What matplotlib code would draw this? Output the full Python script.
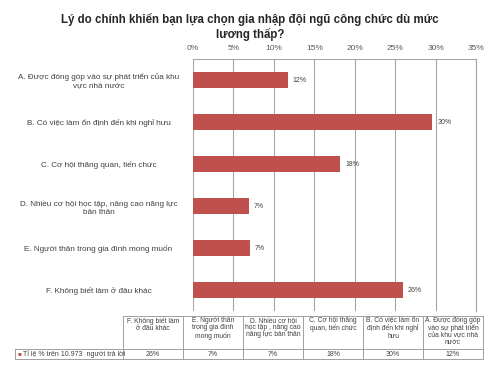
import matplotlib.pyplot as plt
import numpy as np

plt.rcParams['font.family'] = ['Liberation Sans', 'DejaVu Sans']

# data, top to bottom as drawn
categories = [
    "A. Được đóng góp vào sự phát triển của khu\nvực nhà nước",
    "B. Có việc làm ổn định đến khi nghỉ hưu",
    "C. Cơ hội thăng quan, tiến chức",
    "D. Nhiều cơ hội học tập, nâng cao năng lực\nbản thân",
    "E. Người thân trong gia đình mong muốn",
    "F. Không biết làm ở đâu khác",
]
values = [11.7, 29.6, 18.2, 6.9, 7.0, 26.0]

# table below the chart (reversed order, as in the original)
table_headers = [
    "F. Không biết làm\nở đâu khác",
    "E. Người thân\ntrong gia đình\nmong muốn",
    "D. Nhiều cơ hội\nhọc tập , nâng cao\nnăng lực bản thân",
    "C. Cơ hội thăng\nquan, tiến chức",
    "B. Có việc làm ổn\nđịnh đến khi nghỉ\nhưu",
    "A. Được đóng góp\nvào sự phát triển\ncủa khu vực nhà\nnước",
]
table_values = values[::-1]
series_name = "Tỉ lệ % trên 10.973  người trả lời"

title = "Lý do chính khiến bạn lựa chọn gia nhập đội ngũ công chức dù mức\nlương thấp?"
xticks = [0, 5, 10, 15, 20, 25, 30, 35]

bar_color = "#C0504D"
grid_color = "#A6A6A6"
text_color = "#404040"

W, H = 500, 375
fig = plt.figure(figsize=(5, 3.75), dpi=100)


def fx(px):
    return px / W


def fy(py):
    return 1 - py / H


# main bar chart
ax = fig.add_axes([fx(193), fy(311), fx(476 - 193), (311 - 59) / H])
y = np.arange(len(categories))
ax.barh(y, values, height=0.4, color=bar_color, zorder=3)
for yi, v in zip(y, values):
    ax.annotate(f"{v:.0f}%", (v, yi), xytext=(3.5, 0), textcoords="offset points",
                va="center", ha="left", fontsize=5, color=text_color)

ax.set_xlim(0, 35)
ax.set_ylim(len(categories) - 0.5, -0.5)
ax.set_xticks(xticks)
ax.set_xticklabels([f"{t}%" for t in xticks])
ax.xaxis.tick_top()
ax.tick_params(axis="x", length=0, pad=5, labelsize=6, colors="#595959")
ax.set_yticks(y)
ax.set_yticklabels(categories)
ax.tick_params(axis="y", length=0, pad=68, labelsize=5.9, colors=text_color)
for lbl in ax.get_yticklabels():
    lbl.set_ha("center")
    lbl.set_multialignment("center")
ax.grid(axis="x", color=grid_color, linewidth=0.8, zorder=0)
for s in ["left", "bottom"]:
    ax.spines[s].set_visible(False)
for s in ["top", "right"]:
    ax.spines[s].set_color(grid_color)
    ax.spines[s].set_linewidth(0.8)

fig.text(0.5, fy(27), title, ha="center", va="center", fontsize=8.3,
         fontweight="bold", color="#262626", linespacing=1.1)

# data table
n = len(table_headers)
leg_w = (123 - 15) / 60
row_h = 1.0
head_h = (349 - 316) / (359 - 349)
tax = fig.add_axes([fx(15), fy(359), fx(483 - 15), (359 - 316) / H])
tax.set_xlim(-leg_w, n)
tax.set_ylim(0, row_h + head_h)
tax.axis("off")
lc = "#A0A0A0"
lw = 0.7
# header cells
tax.plot([0, n], [row_h + head_h] * 2, color=lc, lw=lw, clip_on=False)
for i in range(n + 1):
    tax.plot([i, i], [0, row_h + head_h], color=lc, lw=lw, clip_on=False)
tax.plot([-leg_w, n], [row_h, row_h], color=lc, lw=lw, clip_on=False)
tax.plot([-leg_w, n], [0, 0], color=lc, lw=lw, clip_on=False)
tax.plot([-leg_w, -leg_w], [0, row_h], color=lc, lw=lw, clip_on=False)
for i, (hdr, v) in enumerate(zip(table_headers, table_values)):
    tax.text(i + 0.5, row_h + head_h - 0.1, hdr, ha="center", va="top",
             fontsize=4.9, color=text_color, linespacing=1.05)
    tax.text(i + 0.5, row_h / 2, f"{v:.0f}%", ha="center", va="center",
             fontsize=5, color=text_color)
tax.text(-leg_w + 0.05, row_h / 2, "■", ha="left", va="center", fontsize=4.5,
         color=bar_color)
tax.text(-leg_w + 0.14, row_h / 2, series_name, ha="left", va="center",
         fontsize=5, color=text_color)

fig.savefig("out.png", dpi=100)
